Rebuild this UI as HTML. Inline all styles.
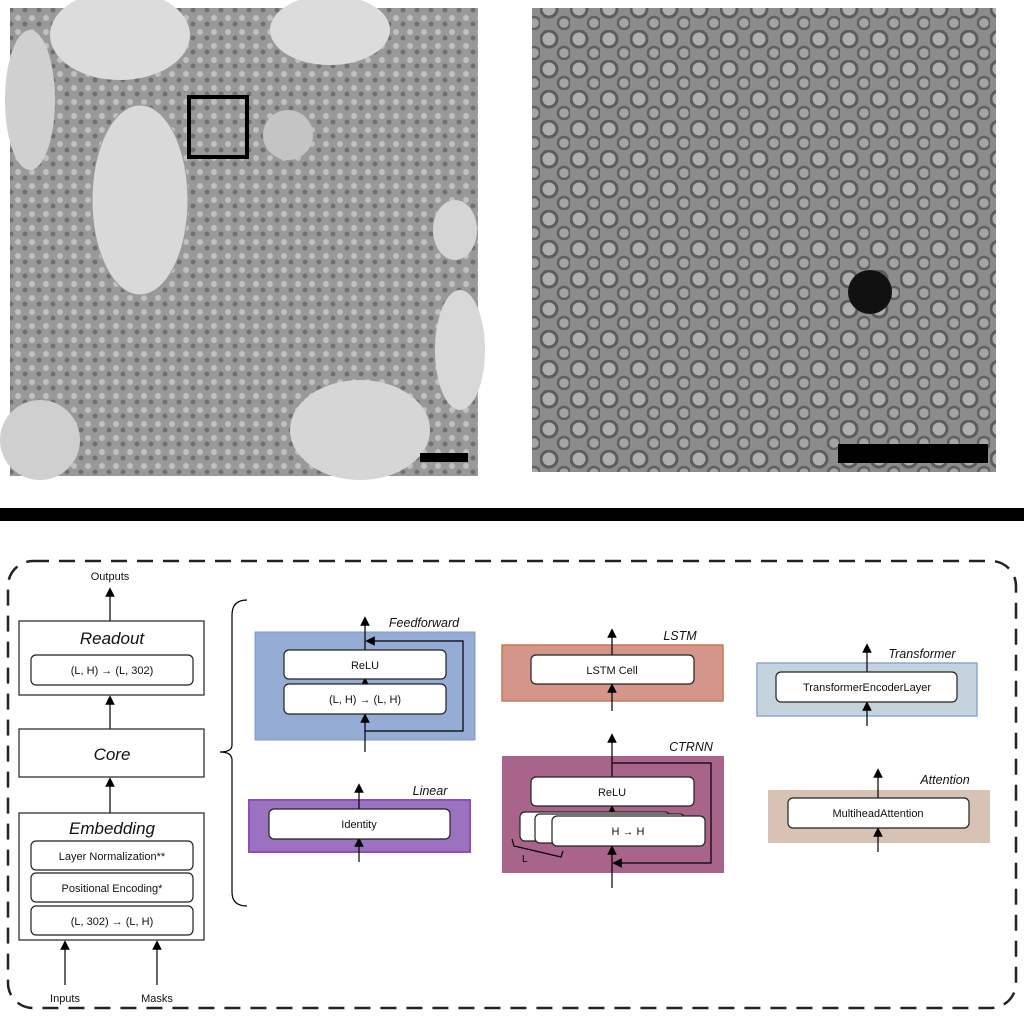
<!DOCTYPE html>
<html><head><style>body{margin:0;background:#fff}svg{display:block}</style></head><body>
<svg width="1024" height="1025" viewBox="0 0 1024 1025" xmlns="http://www.w3.org/2000/svg" font-family="Liberation Sans, sans-serif">
<defs>
<pattern id="tex" width="14" height="14" patternUnits="userSpaceOnUse">
<rect width="14" height="14" fill="#999"/><circle cx="4" cy="4" r="3" fill="#c0c0c0"/><circle cx="11" cy="10" r="2.5" fill="#707070"/>
</pattern>
<pattern id="tex2" width="30" height="30" patternUnits="userSpaceOnUse">
<rect width="30" height="30" fill="#8f8f8f"/><circle cx="9" cy="9" r="8" fill="#c0c0c0" stroke="#4a4a4a" stroke-width="3"/><circle cx="24" cy="23" r="6" fill="#b0b0b0" stroke="#505050" stroke-width="2.5"/>
</pattern>
<marker id="ah" markerWidth="8" markerHeight="8" refX="4" refY="4" orient="auto"><path d="M0,0 L8,4 L0,8 Z" fill="#000"/></marker>
</defs>
<rect x="10" y="8" width="468" height="468" fill="url(#tex)"/>
<ellipse cx="140" cy="200" rx="48" ry="95" fill="#d9d9d9" stroke="#999"/>
<ellipse cx="120" cy="35" rx="70" ry="45" fill="#dcdcdc"/>
<ellipse cx="330" cy="30" rx="60" ry="35" fill="#dcdcdc"/>
<ellipse cx="30" cy="100" rx="25" ry="70" fill="#d0d0d0"/>
<ellipse cx="360" cy="430" rx="70" ry="50" fill="#d6d6d6"/>
<ellipse cx="460" cy="350" rx="25" ry="60" fill="#d8d8d8"/>
<ellipse cx="40" cy="440" rx="40" ry="40" fill="#cfcfcf"/>
<ellipse cx="288" cy="135" rx="25" ry="25" fill="#c4c4c4"/>
<ellipse cx="455" cy="230" rx="22" ry="30" fill="#d5d5d5"/>
<rect x="189" y="97" width="58" height="60" fill="none" stroke="#000" stroke-width="4"/>
<rect x="420" y="453" width="48" height="9" fill="#000"/>
<rect x="532" y="8" width="464" height="464" fill="url(#tex2)"/>
<rect x="532" y="8" width="464" height="464" fill="#888" opacity="0.3"/>
<circle cx="870" cy="292" r="22" fill="#111"/>
<rect x="838" y="444" width="150" height="19" fill="#000"/>
<rect x="0" y="508" width="1024" height="13" fill="#000"/>
<rect x="8" y="561" width="1008" height="447" rx="25" fill="none" stroke="#222" stroke-width="2.5" stroke-dasharray="16,10"/>
<g stroke="#000" stroke-width="1.2" fill="none">
<line x1="110" y1="621" x2="110" y2="592" marker-end="url(#ah)"/>
<line x1="110" y1="729" x2="110" y2="700" marker-end="url(#ah)"/>
<line x1="110" y1="813" x2="110" y2="782" marker-end="url(#ah)"/>
<line x1="65" y1="985" x2="65" y2="945" marker-end="url(#ah)"/>
<line x1="157" y1="985" x2="157" y2="945" marker-end="url(#ah)"/>
<path d="M247,600 Q232,600 232,615 L232,745 Q232,752 220,752 Q232,752 232,760 L232,892 Q232,906 247,906"/>
</g>
<g fill="#fff" stroke="#222" stroke-width="1.2">
<rect x="19" y="621" width="185" height="74"/>
<rect x="31" y="655" width="162" height="30" rx="5"/>
<rect x="19" y="729" width="185" height="48"/>
<rect x="19" y="813" width="185" height="127"/>
<rect x="31" y="841" width="162" height="29" rx="5"/>
<rect x="31" y="873" width="162" height="29" rx="5"/>
<rect x="31" y="906" width="162" height="29" rx="5"/>
</g>
<g font-size="11" text-anchor="middle" fill="#111">
<text x="110" y="580">Outputs</text>
<text x="65" y="1002">Inputs</text>
<text x="157" y="1002">Masks</text>
<text x="112" y="674">(L, H) → (L, 302)</text>
<text x="112" y="860">Layer Normalization**</text>
<text x="112" y="892">Positional Encoding*</text>
<text x="112" y="925">(L, 302) → (L, H)</text>
</g>
<g font-size="17" font-style="italic" text-anchor="middle" fill="#111">
<text x="112" y="644">Readout</text>
<text x="112" y="760">Core</text>
<text x="112" y="834">Embedding</text>
</g>
<rect x="255" y="632" width="220" height="108" fill="#95acd4" stroke="#7e99c9"/>
<rect x="249" y="800" width="221" height="52" fill="#9a72c0" stroke="#8a4fb8" stroke-width="2"/>
<rect x="502" y="645" width="221" height="56" fill="#d4968a" stroke="#c77a55" stroke-width="1.5"/>
<rect x="502" y="756" width="222" height="117" fill="#a8648a"/>
<rect x="757" y="663" width="220" height="53" fill="#c4d3dc" stroke="#8aa8d0" stroke-width="1.5"/>
<rect x="768" y="790" width="222" height="53" fill="#d8c2b4"/>
<g stroke="#000" stroke-width="1.2" fill="none">
<line x1="365" y1="752" x2="365" y2="718" marker-end="url(#ah)"/>
<line x1="365" y1="684" x2="365" y2="682" marker-end="url(#ah)"/>
<line x1="365" y1="650" x2="365" y2="621" marker-end="url(#ah)"/>
<polyline points="365,731 463,731 463,641 370,641" marker-end="url(#ah)"/>
<line x1="359" y1="862" x2="359" y2="842" marker-end="url(#ah)"/>
<line x1="359" y1="809" x2="359" y2="788" marker-end="url(#ah)"/>
<line x1="612" y1="711" x2="612" y2="688" marker-end="url(#ah)"/>
<line x1="612" y1="655" x2="612" y2="633" marker-end="url(#ah)"/>
<line x1="612" y1="888" x2="612" y2="850" marker-end="url(#ah)"/>
<line x1="612" y1="816" x2="612" y2="810" marker-end="url(#ah)"/>
<line x1="612" y1="777" x2="612" y2="738" marker-end="url(#ah)"/>
<polyline points="612,763 711,763 711,863 617,863" marker-end="url(#ah)"/>
<line x1="867" y1="726" x2="867" y2="706" marker-end="url(#ah)"/>
<line x1="867" y1="672" x2="867" y2="648" marker-end="url(#ah)"/>
<line x1="878" y1="852" x2="878" y2="832" marker-end="url(#ah)"/>
<line x1="878" y1="798" x2="878" y2="773" marker-end="url(#ah)"/>
</g>
<g fill="#fff" stroke="#222" stroke-width="1.2">
<rect x="284" y="650" width="162" height="29" rx="5"/>
<rect x="284" y="684" width="162" height="30" rx="5"/>
<rect x="269" y="809" width="181" height="30" rx="5"/>
<rect x="531" y="655" width="163" height="29" rx="5"/>
<rect x="531" y="777" width="163" height="29" rx="5"/>
<rect x="520" y="812" width="150" height="29" rx="5"/>
<rect x="535" y="814" width="150" height="29" rx="5"/>
<rect x="552" y="816" width="153" height="30" rx="5"/>
<rect x="776" y="672" width="181" height="30" rx="5"/>
<rect x="788" y="798" width="181" height="30" rx="5"/>
</g>
<path d="M512,839 L514,846 L561,857 L563,851" fill="none" stroke="#000" stroke-width="1.2"/>
<text x="522" y="862" font-size="10">L</text>
<g font-size="11" text-anchor="middle" fill="#111">
<text x="365" y="669">ReLU</text>
<text x="365" y="703">(L, H) → (L, H)</text>
<text x="359" y="828">Identity</text>
<text x="612" y="674">LSTM Cell</text>
<text x="612" y="796">ReLU</text>
<text x="628" y="835">H → H</text>
<text x="867" y="691">TransformerEncoderLayer</text>
<text x="878" y="817">MultiheadAttention</text>
</g>
<g font-size="12.5" font-style="italic" fill="#111" text-anchor="middle">
<text x="424" y="627">Feedforward</text>
<text x="430" y="795">Linear</text>
<text x="680" y="640">LSTM</text>
<text x="691" y="751">CTRNN</text>
<text x="922" y="658">Transformer</text>
<text x="945" y="784">Attention</text>
</g>
</svg>
</body></html>
